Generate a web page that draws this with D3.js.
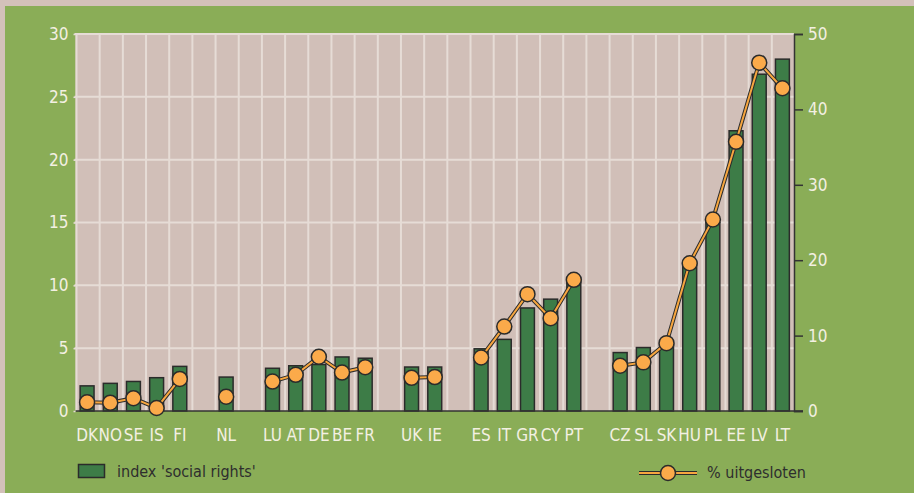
<!DOCTYPE html>
<html>
<head>
<meta charset="utf-8">
<script src="https://cdn.jsdelivr.net/npm/d3@7"></script>
<style>
  body { margin: 0; background: #d3c1ba; }
  svg { display: block; }
  text { font-family: "Liberation Sans Narrow", "DejaVu Sans Condensed", "Roboto", sans-serif; }
</style>
</head>
<body>
<div id="chart"></div>
<script>
// slots, "" = empty gap between country groups
var countries = ["DK","NO","SE","IS","FI","","NL","","LU","AT","DE","BE","FR","","UK","IE","",
                 "ES","IT","GR","CY","PT","","CZ","SL","SK","HU","PL","EE","LV","LT"];
// index 'social rights' (left axis)
var socialRights = [2.0,2.2,2.35,2.65,3.55,null,2.7,null,3.4,3.6,3.7,4.3,4.2,null,3.5,3.5,null,
                    4.95,5.7,8.2,8.9,10.3,null,4.65,5.05,5.3,11.9,15.0,22.3,26.8,28.0];
// % uitgesloten (right axis)
var excluded = [1.15,1.1,1.7,0.4,4.25,null,1.9,null,3.9,4.8,7.2,5.1,5.8,null,4.4,4.5,null,
                7.1,11.2,15.5,12.3,17.4,null,6.0,6.45,9.0,19.6,25.4,35.7,46.2,42.8];
var leftTicks = [0,5,10,15,20,25,30];
var rightTicks = [0,10,20,30,40,50];

var width = 914, height = 493;
var plotLeft = 75.5, plotRight = 794, plotTop = 34, plotBottom = 411;

var svg = d3.select("#chart").append("svg")
  .attr("width", width)
  .attr("height", height);

// green panel, pinkish border on top and left
svg.append("rect")
  .attr("x", 5).attr("y", 6)
  .attr("width", width - 5).attr("height", height - 6)
  .attr("fill", "#8aad57");

var x = d3.scaleBand()
  .domain(d3.range(countries.length))
  .range([plotLeft, plotRight])
  .paddingInner(0.4)
  .paddingOuter(0.2);
var yL = d3.scaleLinear().domain([0, 30]).range([plotBottom, plotTop]);
var yR = d3.scaleLinear().domain([0, 50]).range([plotBottom, plotTop]);
var step = x.step();

// plot background
svg.append("rect")
  .attr("x", plotLeft).attr("y", plotTop)
  .attr("width", plotRight - plotLeft).attr("height", plotBottom - plotTop)
  .attr("fill", "#d1bfb8");

// grid
var grid = svg.append("g").attr("stroke", "#e6dcd6").attr("stroke-width", 2);
grid.selectAll("line.v")
  .data(d3.range(countries.length))
  .enter().append("line")
  .attr("x1", function(i) { return plotLeft + 1 + i * step; })
  .attr("x2", function(i) { return plotLeft + 1 + i * step; })
  .attr("y1", plotTop).attr("y2", plotBottom);
grid.selectAll("line.h")
  .data(leftTicks.slice(1))
  .enter().append("line")
  .attr("x1", plotLeft - 1).attr("x2", plotRight)
  .attr("y1", function(d) { return yL(d); })
  .attr("y2", function(d) { return yL(d); });

// bars
svg.append("g").selectAll("rect")
  .data(socialRights.map(function(v, i) { return {i: i, v: v}; }).filter(function(d) { return d.v != null; }))
  .enter().append("rect")
  .attr("x", function(d) { return x(d.i); })
  .attr("y", function(d) { return yL(d.v); })
  .attr("width", x.bandwidth())
  .attr("height", function(d) { return plotBottom - yL(d.v); })
  .attr("fill", "#3d7c47")
  .attr("stroke", "#2b2b2b")
  .attr("stroke-width", 1.5);

// base line + right axis
svg.append("line")
  .attr("x1", plotLeft).attr("x2", plotRight + 9)
  .attr("y1", plotBottom).attr("y2", plotBottom)
  .attr("stroke", "#333").attr("stroke-width", 1.5);

var axR = svg.append("g")
  .attr("transform", "translate(" + plotRight + ",0)")
  .call(d3.axisRight(yR).tickValues(rightTicks).tickSize(9).tickPadding(5));
axR.select(".domain").attr("stroke", "#333").attr("stroke-width", 1.5);
axR.selectAll(".tick line").attr("stroke", "#333").attr("stroke-width", 1.5);
axR.selectAll("text").attr("fill", "#f3f0e2").attr("font-size", 17)
  .attr("font-family", "Liberation Sans Narrow, DejaVu Sans Condensed, sans-serif");

var axL = svg.append("g")
  .attr("transform", "translate(" + plotLeft + ",0)")
  .call(d3.axisLeft(yL).tickValues(leftTicks).tickSize(2).tickPadding(5));
axL.select(".domain").remove();
axL.selectAll(".tick line").attr("stroke", "#e6dcd6").attr("stroke-width", 1.5);
axL.selectAll("text").attr("fill", "#f3f0e2").attr("font-size", 17)
  .attr("font-family", "Liberation Sans Narrow, DejaVu Sans Condensed, sans-serif");

// country labels
svg.append("g").selectAll("text")
  .data(countries.map(function(c, i) { return {i: i, c: c}; }).filter(function(d) { return d.c !== ""; }))
  .enter().append("text")
  .attr("x", function(d) { return x(d.i) + x.bandwidth() / 2; })
  .attr("y", 441)
  .attr("text-anchor", "middle")
  .attr("fill", "#f3f0e2")
  .attr("font-size", 17)
  .text(function(d) { return d.c; });

// line with markers
var line = d3.line()
  .defined(function(d) { return d != null; })
  .x(function(d, i) { return x(i) + x.bandwidth() / 2; })
  .y(function(d) { return yR(d); });

svg.append("path")
  .attr("d", line(excluded))
  .attr("fill", "none").attr("stroke", "#2b2b2b").attr("stroke-width", 4);
svg.append("path")
  .attr("d", line(excluded))
  .attr("fill", "none").attr("stroke", "#f7a63f").attr("stroke-width", 2);

svg.append("g").selectAll("circle")
  .data(excluded.map(function(v, i) { return {i: i, v: v}; }).filter(function(d) { return d.v != null; }))
  .enter().append("circle")
  .attr("cx", function(d) { return x(d.i) + x.bandwidth() / 2; })
  .attr("cy", function(d) { return yR(d.v); })
  .attr("r", 7.5)
  .attr("fill", "#fbaa4a")
  .attr("stroke", "#2b2b2b")
  .attr("stroke-width", 1.5);

// legend
svg.append("rect")
  .attr("x", 78.5).attr("y", 464.5).attr("width", 26).attr("height", 13)
  .attr("fill", "#3d7c47").attr("stroke", "#2b2b2b").attr("stroke-width", 1.5);
svg.append("text")
  .attr("x", 117).attr("y", 477)
  .attr("fill", "#2e2e2e").attr("font-size", 16)
  .text("index 'social rights'");

svg.append("line")
  .attr("x1", 639).attr("x2", 697).attr("y1", 473).attr("y2", 473)
  .attr("stroke", "#2b2b2b").attr("stroke-width", 4);
svg.append("line")
  .attr("x1", 639).attr("x2", 697).attr("y1", 473).attr("y2", 473)
  .attr("stroke", "#f7a63f").attr("stroke-width", 2);
svg.append("circle")
  .attr("cx", 668).attr("cy", 473).attr("r", 7.5)
  .attr("fill", "#fbaa4a").attr("stroke", "#2b2b2b").attr("stroke-width", 1.5);
svg.append("text")
  .attr("x", 707).attr("y", 478)
  .attr("fill", "#2e2e2e").attr("font-size", 16)
  .text("% uitgesloten");
</script>
</body>
</html>
